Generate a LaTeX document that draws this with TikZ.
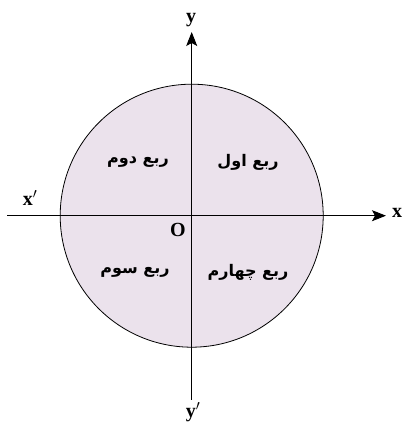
\documentclass[tikz,border=0pt]{standalone}
\usepackage{fontspec}
\setmainfont{Liberation Serif}
\newfontfamily\persianfont[Script=Arabic]{DejaVu Sans}
\TeXXeTstate=1
\usetikzlibrary{arrows.meta}
\definecolor{diskfill}{HTML}{EBE2EC}

\begin{document}
\begin{tikzpicture}[x=1pt,y=1pt,
 axis/.style={draw=black,line width=0.9pt},
 axislabel/.style={font=\fontsize{20}{22}\selectfont\bfseries,inner sep=0pt},
 quarter/.style={font=\persianfont\fontsize{16}{18}\selectfont\bfseries,inner sep=0pt}]
\useasboundingbox (0,0) rectangle (403,424);
\fill[diskfill] (191.7,208.3) circle (131.5);
\draw[line width=0.8pt] (191.7,208.3) circle (131.5);
\coordinate (xl) at (7,208.3);
\coordinate (xr) at (386,208.3);
\coordinate (yb) at (191.7,24);
\coordinate (yt) at (191.7,392);
\draw[axis,-{Stealth[length=14pt,width=11pt,inset=3pt]}] (xl)--(xr);
\draw[axis,-{Stealth[length=14pt,width=11pt,inset=3pt]}] (yb)--(yt);
\node[axislabel] (xlab) at (397,211) {x};
\node[axislabel] (xplab) at (30,226) {x$'$};
\node[axislabel] (ylab) at (191,404) {y};
\node[axislabel] (yplab) at (193,12) {y$'$};
\node[axislabel] (olab) at (178,194) {O};
\node[quarter] (q1) at (248,262) {\beginR ربع اول\endR};
\node[quarter] (q2) at (138,262) {\beginR ربع دوم\endR};
\node[quarter] (q3) at (135,152) {\beginR ربع سوم\endR};
\node[quarter] (q4) at (248,152) {\beginR ربع چهارم\endR};
\end{tikzpicture}
\end{document}
